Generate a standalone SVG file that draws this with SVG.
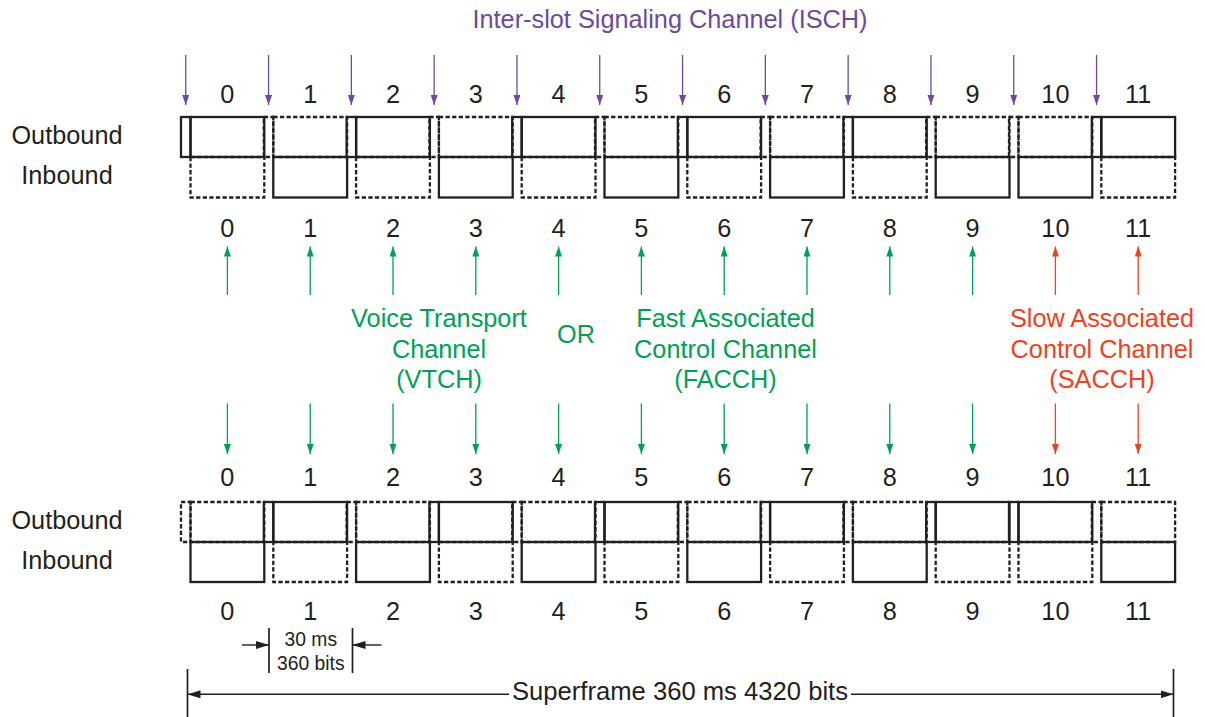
<svg xmlns="http://www.w3.org/2000/svg" width="1205" height="717" viewBox="0 0 1205 717">
<defs>
<style>
text{font-family:"Liberation Sans",Arial,sans-serif;}
.t{font-size:25.3px;fill:#231f20;text-anchor:middle;}
.lbl{font-size:25.3px;fill:#231f20;text-anchor:middle;}
.small{font-size:19.3px;fill:#231f20;text-anchor:middle;}
.grn{font-size:25.3px;fill:#00a055;text-anchor:middle;}
.red{font-size:25.3px;fill:#ef4123;text-anchor:middle;}
.pur{font-size:25.3px;fill:#6b4b9e;text-anchor:middle;}
.s{fill:none;stroke:#231f20;stroke-width:2.3;}
.d{fill:none;stroke:#231f20;stroke-width:2.3;stroke-dasharray:4.3 2.3;}
.ap{stroke:#6b4b9e;stroke-width:1.3;marker-end:url(#mp);}
.ag{stroke:#00a055;stroke-width:1.3;marker-end:url(#mg);}
.ar{stroke:#ef4123;stroke-width:1.3;marker-end:url(#mr);}
.ak{stroke:#231f20;stroke-width:1.4;marker-end:url(#mk);}
.v{stroke:#231f20;stroke-width:1.7;}
</style>
<marker id="mp" viewBox="0 0 10 7" refX="10" refY="3.5" markerWidth="10" markerHeight="7" markerUnits="userSpaceOnUse" orient="auto"><path d="M0,0L10,3.5L0,7z" fill="#6b4b9e"/></marker>
<marker id="mg" viewBox="0 0 10 7" refX="10" refY="3.5" markerWidth="10" markerHeight="7" markerUnits="userSpaceOnUse" orient="auto"><path d="M0,0L10,3.5L0,7z" fill="#00a055"/></marker>
<marker id="mr" viewBox="0 0 10 7" refX="10" refY="3.5" markerWidth="10" markerHeight="7" markerUnits="userSpaceOnUse" orient="auto"><path d="M0,0L10,3.5L0,7z" fill="#ef4123"/></marker>
<marker id="mk" viewBox="0 0 13 8" refX="13" refY="4" markerWidth="13" markerHeight="8" markerUnits="userSpaceOnUse" orient="auto"><path d="M0,0L13,4L0,8z" fill="#231f20"/></marker>
</defs>
<rect width="1205" height="717" fill="#ffffff"/>

<text class="pur" x="670" y="28.3">Inter-slot Signaling Channel (ISCH)</text>

<g id="labels">
<text class="lbl" x="67" y="144.3">Outbound</text>
<text class="lbl" x="67" y="184">Inbound</text>
<text class="lbl" x="67" y="529.3">Outbound</text>
<text class="lbl" x="67" y="569">Inbound</text>
</g>

<g id="numbers-top">
<text class="t" x="227.4" y="102.5">0</text><text class="t" x="310.2" y="102.5">1</text><text class="t" x="393" y="102.5">2</text><text class="t" x="475.8" y="102.5">3</text><text class="t" x="558.6" y="102.5">4</text><text class="t" x="641.4" y="102.5">5</text><text class="t" x="724.2" y="102.5">6</text><text class="t" x="807" y="102.5">7</text><text class="t" x="889.8" y="102.5">8</text><text class="t" x="972.6" y="102.5">9</text><text class="t" x="1055.4" y="102.5">10</text><text class="t" x="1138.2" y="102.5">11</text>
</g>
<g id="numbers-mid1">
<text class="t" x="227.4" y="236.5">0</text><text class="t" x="310.2" y="236.5">1</text><text class="t" x="393" y="236.5">2</text><text class="t" x="475.8" y="236.5">3</text><text class="t" x="558.6" y="236.5">4</text><text class="t" x="641.4" y="236.5">5</text><text class="t" x="724.2" y="236.5">6</text><text class="t" x="807" y="236.5">7</text><text class="t" x="889.8" y="236.5">8</text><text class="t" x="972.6" y="236.5">9</text><text class="t" x="1055.4" y="236.5">10</text><text class="t" x="1138.2" y="236.5">11</text>
</g>
<g id="numbers-mid2">
<text class="t" x="227.4" y="486">0</text><text class="t" x="310.2" y="486">1</text><text class="t" x="393" y="486">2</text><text class="t" x="475.8" y="486">3</text><text class="t" x="558.6" y="486">4</text><text class="t" x="641.4" y="486">5</text><text class="t" x="724.2" y="486">6</text><text class="t" x="807" y="486">7</text><text class="t" x="889.8" y="486">8</text><text class="t" x="972.6" y="486">9</text><text class="t" x="1055.4" y="486">10</text><text class="t" x="1138.2" y="486">11</text>
</g>
<g id="numbers-bottom">
<text class="t" x="227.4" y="620">0</text><text class="t" x="310.2" y="620">1</text><text class="t" x="393" y="620">2</text><text class="t" x="475.8" y="620">3</text><text class="t" x="558.6" y="620">4</text><text class="t" x="641.4" y="620">5</text><text class="t" x="724.2" y="620">6</text><text class="t" x="807" y="620">7</text><text class="t" x="889.8" y="620">8</text><text class="t" x="972.6" y="620">9</text><text class="t" x="1055.4" y="620">10</text><text class="t" x="1138.2" y="620">11</text>
</g>

<g id="top-frame">
<g id="top-slot-0"><rect class="s" x="181" y="117" width="9.5" height="40"/><rect class="s" x="190.5" y="117" width="73.8" height="40"/><rect class="d" x="190.5" y="157" width="73.8" height="40.5"/></g>
<g id="top-slot-1"><rect class="d" x="263.8" y="117" width="9.5" height="40"/><rect class="d" x="273.3" y="117" width="73.8" height="40"/><rect class="s" x="273.3" y="157" width="73.8" height="40.5"/></g>
<g id="top-slot-2"><rect class="s" x="346.6" y="117" width="9.5" height="40"/><rect class="s" x="356.1" y="117" width="73.8" height="40"/><rect class="d" x="356.1" y="157" width="73.8" height="40.5"/></g>
<g id="top-slot-3"><rect class="d" x="429.4" y="117" width="9.5" height="40"/><rect class="d" x="438.9" y="117" width="73.8" height="40"/><rect class="s" x="438.9" y="157" width="73.8" height="40.5"/></g>
<g id="top-slot-4"><rect class="s" x="512.2" y="117" width="9.5" height="40"/><rect class="s" x="521.7" y="117" width="73.8" height="40"/><rect class="d" x="521.7" y="157" width="73.8" height="40.5"/></g>
<g id="top-slot-5"><rect class="d" x="595" y="117" width="9.5" height="40"/><rect class="d" x="604.5" y="117" width="73.8" height="40"/><rect class="s" x="604.5" y="157" width="73.8" height="40.5"/></g>
<g id="top-slot-6"><rect class="s" x="677.8" y="117" width="9.5" height="40"/><rect class="s" x="687.3" y="117" width="73.8" height="40"/><rect class="d" x="687.3" y="157" width="73.8" height="40.5"/></g>
<g id="top-slot-7"><rect class="d" x="760.6" y="117" width="9.5" height="40"/><rect class="d" x="770.1" y="117" width="73.8" height="40"/><rect class="s" x="770.1" y="157" width="73.8" height="40.5"/></g>
<g id="top-slot-8"><rect class="s" x="843.4" y="117" width="9.5" height="40"/><rect class="s" x="852.9" y="117" width="73.8" height="40"/><rect class="d" x="852.9" y="157" width="73.8" height="40.5"/></g>
<g id="top-slot-9"><rect class="d" x="926.2" y="117" width="9.5" height="40"/><rect class="d" x="935.7" y="117" width="73.8" height="40"/><rect class="s" x="935.7" y="157" width="73.8" height="40.5"/></g>
<g id="top-slot-10"><rect class="d" x="1009" y="117" width="9.5" height="40"/><rect class="d" x="1018.5" y="117" width="73.8" height="40"/><rect class="s" x="1018.5" y="157" width="73.8" height="40.5"/></g>
<g id="top-slot-11"><rect class="s" x="1091.8" y="117" width="9.5" height="40"/><rect class="s" x="1101.3" y="117" width="73.8" height="40"/><rect class="d" x="1101.3" y="157" width="73.8" height="40.5"/></g>
</g>

<g id="bottom-frame">
<g id="bot-slot-0"><rect class="d" x="181" y="502" width="9.5" height="40"/><rect class="d" x="190.5" y="502" width="73.8" height="40"/><rect class="s" x="190.5" y="542" width="73.8" height="40"/></g>
<g id="bot-slot-1"><rect class="s" x="263.8" y="502" width="9.5" height="40"/><rect class="s" x="273.3" y="502" width="73.8" height="40"/><rect class="d" x="273.3" y="542" width="73.8" height="40"/></g>
<g id="bot-slot-2"><rect class="d" x="346.6" y="502" width="9.5" height="40"/><rect class="d" x="356.1" y="502" width="73.8" height="40"/><rect class="s" x="356.1" y="542" width="73.8" height="40"/></g>
<g id="bot-slot-3"><rect class="s" x="429.4" y="502" width="9.5" height="40"/><rect class="s" x="438.9" y="502" width="73.8" height="40"/><rect class="d" x="438.9" y="542" width="73.8" height="40"/></g>
<g id="bot-slot-4"><rect class="d" x="512.2" y="502" width="9.5" height="40"/><rect class="d" x="521.7" y="502" width="73.8" height="40"/><rect class="s" x="521.7" y="542" width="73.8" height="40"/></g>
<g id="bot-slot-5"><rect class="s" x="595" y="502" width="9.5" height="40"/><rect class="s" x="604.5" y="502" width="73.8" height="40"/><rect class="d" x="604.5" y="542" width="73.8" height="40"/></g>
<g id="bot-slot-6"><rect class="d" x="677.8" y="502" width="9.5" height="40"/><rect class="d" x="687.3" y="502" width="73.8" height="40"/><rect class="s" x="687.3" y="542" width="73.8" height="40"/></g>
<g id="bot-slot-7"><rect class="s" x="760.6" y="502" width="9.5" height="40"/><rect class="s" x="770.1" y="502" width="73.8" height="40"/><rect class="d" x="770.1" y="542" width="73.8" height="40"/></g>
<g id="bot-slot-8"><rect class="d" x="843.4" y="502" width="9.5" height="40"/><rect class="d" x="852.9" y="502" width="73.8" height="40"/><rect class="s" x="852.9" y="542" width="73.8" height="40"/></g>
<g id="bot-slot-9"><rect class="s" x="926.2" y="502" width="9.5" height="40"/><rect class="s" x="935.7" y="502" width="73.8" height="40"/><rect class="d" x="935.7" y="542" width="73.8" height="40"/></g>
<g id="bot-slot-10"><rect class="s" x="1009" y="502" width="9.5" height="40"/><rect class="s" x="1018.5" y="502" width="73.8" height="40"/><rect class="d" x="1018.5" y="542" width="73.8" height="40"/></g>
<g id="bot-slot-11"><rect class="d" x="1091.8" y="502" width="9.5" height="40"/><rect class="d" x="1101.3" y="502" width="73.8" height="40"/><rect class="s" x="1101.3" y="542" width="73.8" height="40"/></g>
</g>

<g id="channel-labels">
<g id="vtch"><text class="grn" x="439" y="327.3">Voice Transport</text><text class="grn" x="439" y="357.8">Channel</text><text class="grn" x="439" y="387.5">(VTCH)</text></g>
<g id="or"><text class="grn" x="576" y="343.3">OR</text></g>
<g id="facch"><text class="grn" x="725.5" y="327.3">Fast Associated</text><text class="grn" x="725.5" y="357.8">Control Channel</text><text class="grn" x="725.5" y="387.5">(FACCH)</text></g>
<g id="sacch"><text class="red" x="1102" y="327.3">Slow Associated</text><text class="red" x="1102" y="357.8">Control Channel</text><text class="red" x="1102" y="387.5">(SACCH)</text></g>
</g>

<g id="connectors">
<g id="isch-arrows">
<line class="ap" x1="185.75" y1="55" x2="185.75" y2="105"/><line class="ap" x1="268.55" y1="55" x2="268.55" y2="105"/><line class="ap" x1="351.35" y1="55" x2="351.35" y2="105"/><line class="ap" x1="434.15" y1="55" x2="434.15" y2="105"/><line class="ap" x1="516.95" y1="55" x2="516.95" y2="105"/><line class="ap" x1="599.75" y1="55" x2="599.75" y2="105"/><line class="ap" x1="682.55" y1="55" x2="682.55" y2="105"/><line class="ap" x1="765.35" y1="55" x2="765.35" y2="105"/><line class="ap" x1="848.15" y1="55" x2="848.15" y2="105"/><line class="ap" x1="930.95" y1="55" x2="930.95" y2="105"/><line class="ap" x1="1013.75" y1="55" x2="1013.75" y2="105"/><line class="ap" x1="1096.55" y1="55" x2="1096.55" y2="105"/>
</g>
<g id="up-arrows">
<line class="ag" x1="227.4" y1="295" x2="227.4" y2="246.5"/><line class="ag" x1="310.2" y1="295" x2="310.2" y2="246.5"/><line class="ag" x1="393" y1="295" x2="393" y2="246.5"/><line class="ag" x1="475.8" y1="295" x2="475.8" y2="246.5"/><line class="ag" x1="558.6" y1="295" x2="558.6" y2="246.5"/><line class="ag" x1="641.4" y1="295" x2="641.4" y2="246.5"/><line class="ag" x1="724.2" y1="295" x2="724.2" y2="246.5"/><line class="ag" x1="807" y1="295" x2="807" y2="246.5"/><line class="ag" x1="889.8" y1="295" x2="889.8" y2="246.5"/><line class="ag" x1="972.6" y1="295" x2="972.6" y2="246.5"/><line class="ar" x1="1055.4" y1="295" x2="1055.4" y2="246.5"/><line class="ar" x1="1138.2" y1="295" x2="1138.2" y2="246.5"/>
</g>
<g id="down-arrows">
<line class="ag" x1="227.4" y1="403.5" x2="227.4" y2="454"/><line class="ag" x1="310.2" y1="403.5" x2="310.2" y2="454"/><line class="ag" x1="393" y1="403.5" x2="393" y2="454"/><line class="ag" x1="475.8" y1="403.5" x2="475.8" y2="454"/><line class="ag" x1="558.6" y1="403.5" x2="558.6" y2="454"/><line class="ag" x1="641.4" y1="403.5" x2="641.4" y2="454"/><line class="ag" x1="724.2" y1="403.5" x2="724.2" y2="454"/><line class="ag" x1="807" y1="403.5" x2="807" y2="454"/><line class="ag" x1="889.8" y1="403.5" x2="889.8" y2="454"/><line class="ag" x1="972.6" y1="403.5" x2="972.6" y2="454"/><line class="ar" x1="1055.4" y1="403.5" x2="1055.4" y2="454"/><line class="ar" x1="1138.2" y1="403.5" x2="1138.2" y2="454"/>
</g>
<g id="slot-dimension">
<line class="v" x1="269" y1="628" x2="269" y2="673"/>
<line class="v" x1="352.5" y1="628" x2="352.5" y2="673"/>
<line class="ak" x1="242" y1="645" x2="269" y2="645"/>
<line class="ak" x1="381.5" y1="645" x2="352.5" y2="645"/>
</g>
<g id="superframe-dimension">
<line class="v" x1="187.5" y1="669" x2="187.5" y2="717"/>
<line class="v" x1="1173.5" y1="669" x2="1173.5" y2="717"/>
<line class="ak" x1="509" y1="694.3" x2="187.5" y2="694.3"/>
<line class="ak" x1="851" y1="694.3" x2="1173.5" y2="694.3"/>
</g>
</g>

<g id="dimension-texts">
<text class="small" x="310.8" y="646">30 ms</text>
<text class="small" x="310.8" y="670">360 bits</text>
<text class="lbl" x="680" y="700" textLength="336" lengthAdjust="spacingAndGlyphs">Superframe 360 ms 4320 bits</text>
</g>
</svg>
